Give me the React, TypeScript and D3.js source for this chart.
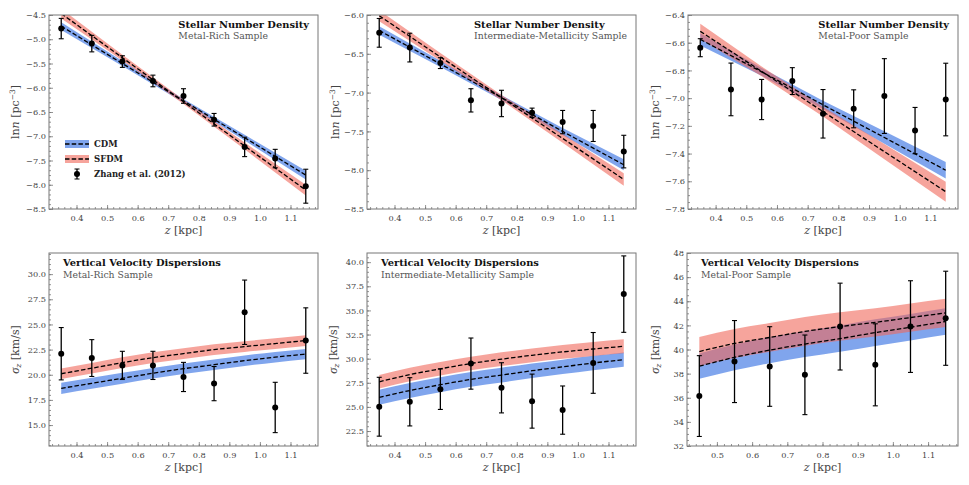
import React, { useEffect, useRef } from "react";
import * as d3 from "d3";

const W = 969;
const H = 485;

// ---------- Data ----------
const zObs = [0.35, 0.45, 0.55, 0.65, 0.75, 0.85, 0.95, 1.05, 1.15];
const zObsPoor = [0.45, 0.55, 0.65, 0.75, 0.85, 0.95, 1.05, 1.15];
const zLine = [0.35, 0.55, 0.75, 0.95, 1.15];
const zCurve = [0.35, 0.45, 0.55, 0.65, 0.75, 0.85, 0.95, 1.05, 1.15];
const zCurvePoor = [0.45, 0.55, 0.65, 0.75, 0.85, 0.95, 1.05, 1.15];

// Stellar number density (ln n)
const richDensity = [-4.78, -5.09, -5.46, -5.86, -6.17, -6.66, -7.22, -7.46, -8.03];
const richDensityErr = [0.21, 0.17, 0.12, 0.12, 0.15, 0.13, 0.2, 0.19, 0.35];
const richDensityCDM = [-4.73, -5.5, -6.27, -7.03, -7.8];
const richDensityCDMBand = [0.08, 0.05, 0.04, 0.06, 0.09];
const richDensitySFDM = [-4.47, -5.38, -6.29, -7.2, -8.11];
const richDensitySFDMBand = [0.1, 0.06, 0.045, 0.07, 0.11];

const interDensity = [-6.23, -6.42, -6.62, -7.1, -7.14, -7.26, -7.38, -7.43, -7.76];
const interDensityErr = [0.185, 0.185, 0.07, 0.15, 0.17, 0.06, 0.15, 0.2, 0.21];
const interDensityCDM = [-6.2, -6.63, -7.065, -7.5, -7.93];
const interDensityCDMBand = [0.055, 0.04, 0.03, 0.045, 0.07];
const interDensitySFDM = [-6.01, -6.54, -7.065, -7.59, -8.12];
const interDensitySFDMBand = [0.07, 0.05, 0.035, 0.055, 0.08];

const poorDensity = [-6.636, -6.937, -7.01, -6.877, -7.113, -7.077, -6.985, -7.234, -7.01];
const poorDensityErr = [0.065, 0.19, 0.145, 0.097, 0.175, 0.137, 0.27, 0.167, 0.262];
const poorDensityCDM = [-6.576, -6.81, -7.048, -7.284, -7.52];
const poorDensityCDMBand = [0.045, 0.028, 0.03, 0.045, 0.06];
const poorDensitySFDM = [-6.518, -6.807, -7.097, -7.386, -7.675];
const poorDensitySFDMBand = [0.055, 0.035, 0.035, 0.055, 0.072];

// Vertical velocity dispersions (km/s)
const richSigma = [22.09, 21.66, 20.93, 20.93, 19.78, 19.12, 26.21, 16.75, 23.4];
const richSigmaErr = [2.6, 1.83, 1.4, 1.4, 1.45, 1.7, 3.2, 2.5, 3.25];
const richSigmaCDM = [18.65, 19.15, 19.65, 20.15, 20.6, 21.0, 21.4, 21.75, 22.05];
const richSigmaCDMBand = [0.55, 0.55, 0.55, 0.53, 0.53, 0.52, 0.52, 0.52, 0.52];
const richSigmaSFDM = [20.1, 20.65, 21.2, 21.7, 22.1, 22.5, 22.8, 23.1, 23.4];
const richSigmaSFDMBand = [0.53, 0.53, 0.53, 0.53, 0.53, 0.53, 0.53, 0.53, 0.53];

const interSigma = [25.02, 25.53, 26.84, 29.49, 26.98, 25.6, 24.67, 29.56, 36.69];
const interSigmaErr = [3.05, 2.5, 2.1, 2.65, 2.6, 2.8, 2.5, 3.15, 3.96];
const interSigmaCDM = [26.0, 26.7, 27.3, 27.85, 28.3, 28.75, 29.15, 29.55, 29.9];
const interSigmaCDMBand = [0.78, 0.78, 0.77, 0.76, 0.76, 0.75, 0.75, 0.74, 0.74];
const interSigmaSFDM = [27.6, 28.35, 28.95, 29.5, 29.95, 30.35, 30.7, 31.0, 31.28];
const interSigmaSFDMBand = [0.7, 0.7, 0.7, 0.7, 0.71, 0.71, 0.72, 0.72, 0.72];

const poorSigma = [36.14, 39.0, 38.59, 37.9, 41.9, 38.73, 41.9, 42.59];
const poorSigmaErr = [3.35, 3.4, 3.3, 3.3, 3.6, 3.4, 3.8, 3.9];
const poorSigmaCDM = [38.62, 39.35, 39.95, 40.45, 40.9, 41.4, 41.85, 42.32];
const poorSigmaCDMBand = [1.05, 1.07, 1.08, 1.08, 1.09, 1.1, 1.1, 1.1];
const poorSigmaSFDM = [39.83, 40.5, 41.0, 41.5, 41.9, 42.25, 42.65, 43.03];
const poorSigmaSFDMBand = [1.2, 1.2, 1.19, 1.19, 1.18, 1.18, 1.17, 1.17];

const legendLabels = ["CDM", "SFDM", "Zhang et al. (2012)"];

// ---------- Styling ----------
const BLUE = "#4a7fe6";
const RED = "#f0675a";
const FRAME = "#777";
const SERIF = "'DejaVu Serif', 'Liberation Serif', serif";
const GREEK = "'Liberation Serif', 'DejaVu Serif', serif";

type PanelCfg = {
  left: number; top: number; width: number; height: number;
  xDomain: [number, number]; yDomain: [number, number];
  yMajor: number[]; yMinor: number[]; yFmt: string;
  zObs: number[]; obs: number[]; err: number[];
  zModel: number[]; cdm: number[]; cdmBand: number[]; sfdm: number[]; sfdmBand: number[];
  curved: boolean; kind: "density" | "sigma";
  title: string; subtitle: string; legend?: boolean; ylabelX: number;
};

function steps(a: number, b: number, s: number) {
  const out: number[] = [];
  const n = Math.round((b - a) / s);
  for (let i = 0; i <= n; i++) out.push(+(a + i * s).toFixed(6));
  return out;
}

const colLeft = [49, 367, 688];
const rowTop = [15, 253];
const PW = 269;
const PH = [194, 193];
const ylabelCenters = [15, 335, 655];

const panels: PanelCfg[] = [
  {
    left: colLeft[0], top: rowTop[0], width: PW, height: PH[0],
    xDomain: [0.31, 1.19], yDomain: [-8.5, -4.5],
    yMajor: steps(-8.5, -4.5, 0.5), yMinor: steps(-8.5, -4.5, 0.1), yFmt: ".1f",
    zObs, obs: richDensity, err: richDensityErr,
    zModel: zLine, cdm: richDensityCDM, cdmBand: richDensityCDMBand, sfdm: richDensitySFDM, sfdmBand: richDensitySFDMBand,
    curved: false, kind: "density", title: "Stellar Number Density", subtitle: "Metal-Rich Sample", legend: true,
    ylabelX: ylabelCenters[0],
  },
  {
    left: colLeft[1], top: rowTop[0], width: PW, height: PH[0],
    xDomain: [0.31, 1.19], yDomain: [-8.5, -6.0],
    yMajor: steps(-8.5, -6.0, 0.5), yMinor: steps(-8.5, -6.0, 0.1), yFmt: ".1f",
    zObs, obs: interDensity, err: interDensityErr,
    zModel: zLine, cdm: interDensityCDM, cdmBand: interDensityCDMBand, sfdm: interDensitySFDM, sfdmBand: interDensitySFDMBand,
    curved: false, kind: "density", title: "Stellar Number Density", subtitle: "Intermediate-Metallicity Sample",
    ylabelX: ylabelCenters[1],
  },
  {
    left: colLeft[2], top: rowTop[0], width: 270, height: PH[0],
    xDomain: [0.31, 1.19], yDomain: [-7.8, -6.4],
    yMajor: steps(-7.8, -6.4, 0.2), yMinor: steps(-7.8, -6.4, 0.05), yFmt: ".1f",
    zObs, obs: poorDensity, err: poorDensityErr,
    zModel: zLine, cdm: poorDensityCDM, cdmBand: poorDensityCDMBand, sfdm: poorDensitySFDM, sfdmBand: poorDensitySFDMBand,
    curved: false, kind: "density", title: "Stellar Number Density", subtitle: "Metal-Poor Sample",
    ylabelX: ylabelCenters[2],
  },
  {
    left: colLeft[0], top: rowTop[1], width: PW, height: PH[1],
    xDomain: [0.31, 1.19], yDomain: [12.92, 32.1],
    yMajor: steps(15, 30, 2.5), yMinor: steps(13, 32, 0.5), yFmt: ".1f",
    zObs, obs: richSigma, err: richSigmaErr,
    zModel: zCurve, cdm: richSigmaCDM, cdmBand: richSigmaCDMBand, sfdm: richSigmaSFDM, sfdmBand: richSigmaSFDMBand,
    curved: true, kind: "sigma", title: "Vertical Velocity Dispersions", subtitle: "Metal-Rich Sample",
    ylabelX: ylabelCenters[0],
  },
  {
    left: colLeft[1], top: rowTop[1], width: PW, height: PH[1],
    xDomain: [0.31, 1.19], yDomain: [20.95, 40.95],
    yMajor: steps(22.5, 40, 2.5), yMinor: steps(21, 40.5, 0.5), yFmt: ".1f",
    zObs, obs: interSigma, err: interSigmaErr,
    zModel: zCurve, cdm: interSigmaCDM, cdmBand: interSigmaCDMBand, sfdm: interSigmaSFDM, sfdmBand: interSigmaSFDMBand,
    curved: true, kind: "sigma", title: "Vertical Velocity Dispersions", subtitle: "Intermediate-Metallicity Sample",
    ylabelX: ylabelCenters[1] - 2,
  },
  {
    left: colLeft[2] - 1, top: rowTop[1], width: 271, height: PH[1],
    xDomain: [0.415, 1.185], yDomain: [32, 48],
    yMajor: steps(32, 48, 2), yMinor: steps(32, 48, 0.5), yFmt: "d",
    zObs: zObsPoor, obs: poorSigma, err: poorSigmaErr,
    zModel: zCurvePoor, cdm: poorSigmaCDM, cdmBand: poorSigmaCDMBand, sfdm: poorSigmaSFDM, sfdmBand: poorSigmaSFDMBand,
    curved: true, kind: "sigma", title: "Vertical Velocity Dispersions", subtitle: "Metal-Poor Sample",
    ylabelX: ylabelCenters[2],
  },
];

function drawPanel(svg: d3.Selection<SVGSVGElement, unknown, null, undefined>, p: PanelCfg, idx: number) {
  const g = svg.append("g").attr("transform", `translate(${p.left},${p.top})`);
  const x = d3.scaleLinear().domain(p.xDomain).range([0, p.width]);
  const y = d3.scaleLinear().domain(p.yDomain).range([p.height, 0]);

  const clipId = `clip-${idx}`;
  g.append("clipPath").attr("id", clipId).append("rect").attr("width", p.width).attr("height", p.height);
  const plot = g.append("g").attr("clip-path", `url(#${clipId})`);

  const curve = p.curved ? d3.curveMonotoneX : d3.curveLinear;
  const idxs = p.zModel.map((_, i) => i);
  const area = (vals: number[], hw: number[]) =>
    d3.area<number>().x((i) => x(p.zModel[i])).y0((i) => y(vals[i] - hw[i])).y1((i) => y(vals[i] + hw[i])).curve(curve)(idxs);
  const line = (vals: number[]) => d3.line<number>().x((i) => x(p.zModel[i])).y((i) => y(vals[i])).curve(curve)(idxs);

  plot.append("path").attr("d", area(p.cdm, p.cdmBand)!).attr("fill", BLUE).attr("fill-opacity", 0.7);
  plot.append("path").attr("d", area(p.sfdm, p.sfdmBand)!).attr("fill", RED).attr("fill-opacity", 0.6);
  for (const vals of [p.cdm, p.sfdm]) {
    plot.append("path").attr("d", line(vals)!).attr("fill", "none").attr("stroke", "#000")
      .attr("stroke-width", 1.3).attr("stroke-dasharray", "4.5,2.2");
  }

  // error bars
  const eb = plot.append("g");
  p.zObs.forEach((z, i) => {
    const cx = x(z);
    const yHi = y(p.obs[i] + p.err[i]);
    const yLo = y(p.obs[i] - p.err[i]);
    eb.append("line").attr("x1", cx).attr("x2", cx).attr("y1", yHi).attr("y2", yLo).attr("stroke", "#000").attr("stroke-width", 1.3);
    for (const yy of [yHi, yLo]) {
      eb.append("line").attr("x1", cx - 2.5).attr("x2", cx + 2.5).attr("y1", yy).attr("y2", yy).attr("stroke", "#000").attr("stroke-width", 1.1);
    }
    eb.append("circle").attr("cx", cx).attr("cy", y(p.obs[i])).attr("r", 3).attr("fill", "#000");
  });

  // frame
  g.append("rect").attr("width", p.width).attr("height", p.height).attr("fill", "none").attr("stroke", FRAME).attr("stroke-width", 1);

  // axes
  const xMajor = steps(0.4, 1.1, 0.1).filter((v) => v >= p.xDomain[0] && v <= p.xDomain[1]);
  const xMinor = steps(0.32, 1.18, 0.02).filter((v) => v >= p.xDomain[0] && v <= p.xDomain[1]);
  const styleAxis = (a: d3.Selection<SVGGElement, unknown, null, undefined>) => {
    a.select(".domain").remove();
    a.selectAll("line").attr("stroke", FRAME).attr("stroke-width", 0.8);
    a.selectAll("text").attr("font-family", SERIF).attr("font-size", 8.2).attr("fill", "#444");
  };
  const xa = g.append("g").attr("transform", `translate(0,${p.height})`)
    .call(d3.axisBottom(x).tickValues(xMajor).tickSizeInner(-4).tickSizeOuter(0).tickPadding(6).tickFormat(d3.format(".1f")));
  styleAxis(xa);
  const xm = g.append("g").attr("transform", `translate(0,${p.height})`)
    .call(d3.axisBottom(x).tickValues(xMinor).tickSizeInner(-2).tickSizeOuter(0).tickFormat(() => ""));
  styleAxis(xm);
  const ya = g.append("g")
    .call(d3.axisLeft(y).tickValues(p.yMajor).tickSizeInner(-4).tickSizeOuter(0).tickPadding(3).tickFormat(d3.format(p.yFmt)));
  styleAxis(ya);
  const ym = g.append("g")
    .call(d3.axisLeft(y).tickValues(p.yMinor.filter((v) => v >= p.yDomain[0] && v <= p.yDomain[1])).tickSizeInner(-2).tickSizeOuter(0).tickFormat(() => ""));
  styleAxis(ym);

  // x label
  const xl = g.append("text").attr("x", p.width / 2).attr("y", p.height + 24.5).attr("text-anchor", "middle")
    .attr("font-family", SERIF).attr("font-size", 11).attr("fill", "#444");
  xl.append("tspan").attr("font-style", "italic").text("z");
  xl.append("tspan").text(" [kpc]");

  // y label
  const ylx = p.ylabelX + 3.8 - p.left;
  const yl = g.append("text").attr("transform", `translate(${ylx},${p.height / 2}) rotate(-90)`)
    .attr("text-anchor", "middle").attr("font-family", SERIF).attr("font-size", 11).attr("fill", "#444");
  if (p.kind === "density") {
    yl.append("tspan").text("ln");
    yl.append("tspan").attr("font-style", "italic").text("n");
    yl.append("tspan").text(" [pc");
    yl.append("tspan").attr("font-size", 7.5).attr("dy", -4).text("−3");
    yl.append("tspan").attr("dy", 4).text("]");
  } else {
    yl.append("tspan").attr("font-style", "italic").attr("font-family", GREEK).attr("font-size", 12.5).text("σ");
    yl.append("tspan").attr("font-style", "italic").attr("font-size", 7.5).attr("dy", 2.5).text("z");
    yl.append("tspan").attr("dy", -2.5).text(" [km/s]");
  }

  // titles
  const tg = g.append("g");
  const t1 = tg.append("text").attr("font-family", SERIF).attr("font-size", 9.9).attr("font-weight", "bold").attr("fill", "#111").text(p.title);
  const t2 = tg.append("text").attr("font-family", SERIF).attr("font-size", 9.3).attr("fill", "#555").text(p.subtitle);
  if (p.kind === "density") {
    const w = Math.max((t1.node() as SVGTextElement).getComputedTextLength(), (t2.node() as SVGTextElement).getComputedTextLength());
    const tx = p.width - 9 - w;
    t1.attr("x", tx).attr("y", 12.5);
    t2.attr("x", tx).attr("y", 23.5);
  } else {
    t1.attr("x", 14).attr("y", 12.5);
    t2.attr("x", 14).attr("y", 24.5);
  }

  if (p.legend) {
    const lg = g.append("g");
    const rows = [129, 144, 159];
    const px0 = 16, pw = 24;
    lg.append("rect").attr("x", px0).attr("y", rows[0] - 4).attr("width", pw).attr("height", 8).attr("fill", BLUE).attr("fill-opacity", 0.7);
    lg.append("line").attr("x1", px0).attr("x2", px0 + pw).attr("y1", rows[0]).attr("y2", rows[0]).attr("stroke", "#000").attr("stroke-width", 1.3).attr("stroke-dasharray", "4.5,2.2");
    lg.append("rect").attr("x", px0).attr("y", rows[1] - 4).attr("width", pw).attr("height", 8).attr("fill", RED).attr("fill-opacity", 0.6);
    lg.append("line").attr("x1", px0).attr("x2", px0 + pw).attr("y1", rows[1]).attr("y2", rows[1]).attr("stroke", "#000").attr("stroke-width", 1.3).attr("stroke-dasharray", "4.5,2.2");
    const cx = px0 + pw / 2;
    lg.append("line").attr("x1", cx).attr("x2", cx).attr("y1", rows[2] - 5).attr("y2", rows[2] + 5).attr("stroke", "#000").attr("stroke-width", 1.3);
    lg.append("line").attr("x1", cx - 2.5).attr("x2", cx + 2.5).attr("y1", rows[2] - 5).attr("y2", rows[2] - 5).attr("stroke", "#000");
    lg.append("line").attr("x1", cx - 2.5).attr("x2", cx + 2.5).attr("y1", rows[2] + 5).attr("y2", rows[2] + 5).attr("stroke", "#000");
    lg.append("circle").attr("cx", cx).attr("cy", rows[2]).attr("r", 3).attr("fill", "#000");
    legendLabels.forEach((lab, i) => {
      lg.append("text").attr("x", px0 + pw + 5).attr("y", rows[i] + 3.2).attr("font-family", SERIF)
        .attr("font-size", 8.5).attr("font-weight", "bold").attr("fill", "#222").text(lab);
    });
  }
}

export default function App() {
  const ref = useRef<SVGSVGElement | null>(null);
  useEffect(() => {
    if (!ref.current) return;
    const svg = d3.select(ref.current);
    svg.selectAll("*").remove();
    svg.append("rect").attr("width", W).attr("height", H).attr("fill", "#fff");
    panels.forEach((p, i) => drawPanel(svg as any, p, i));
  }, []);
  return (
    <svg ref={ref} width={W} height={H} style={{ display: "block", position: "absolute", left: 0, top: 0 }} />
  );
}
